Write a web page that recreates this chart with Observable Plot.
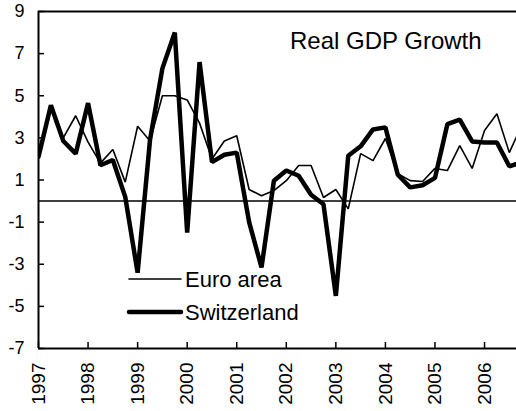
<!DOCTYPE html>
<html><head><meta charset="utf-8">
<script src="https://cdn.jsdelivr.net/npm/d3@7"></script>
<script src="https://cdn.jsdelivr.net/npm/@observablehq/plot@0.6"></script>
<style>
html,body{margin:0;padding:0;background:#fff;}
#chart{width:516px;height:411px;}
</style></head><body><div id="chart"></div>
<script>
const quarters = [
  "1997Q1","1997Q2","1997Q3","1997Q4","1998Q1","1998Q2","1998Q3","1998Q4",
  "1999Q1","1999Q2","1999Q3","1999Q4","2000Q1","2000Q2","2000Q3","2000Q4",
  "2001Q1","2001Q2","2001Q3","2001Q4","2002Q1","2002Q2","2002Q3","2002Q4",
  "2003Q1","2003Q2","2003Q3","2003Q4","2004Q1","2004Q2","2004Q3","2004Q4",
  "2005Q1","2005Q2","2005Q3","2005Q4","2006Q1","2006Q2","2006Q3","2006Q4"
];
const euroArea = [
  2.1, 4.5, 3.0, 4.05,   2.8, 1.8, 2.45, 0.9,
  3.55, 2.85, 5.0, 5.0,  4.8, 3.7, 2.0, 2.85,
  3.1, 0.55, 0.25, 0.5,  0.97, 1.69, 1.69, 0.17,
  0.55, -0.37, 2.25, 1.92, 2.97, 1.3, 0.97, 0.93,
  1.55, 1.45, 2.63, 1.55, 3.35, 4.15, 2.3, 3.6
];
const switzerland = [
  2.1, 4.55, 2.85, 2.25, 4.65, 1.7, 1.95, 0.2,
  -3.4, 2.9, 6.3, 8.0,   -1.5, 6.6, 1.85, 2.2,
  2.3, -1.0, -3.15, 0.97, 1.45, 1.2, 0.3, -0.15,
  -4.5, 2.15, 2.6, 3.4,  3.5, 1.25, 0.65, 0.75,
  1.1, 3.65, 3.87, 2.83, 2.78, 2.78, 1.65, 1.85
];
const seriesNames = ["Euro area", "Switzerland"];
const yTicks = [-7, -5, -3, -1, 1, 3, 5, 7, 9];
const xTicks = [1997, 1998, 1999, 2000, 2001, 2002, 2003, 2004, 2005, 2006];
const titleText = "Real GDP Growth";

const toT = q => +q.slice(0, 4) + (+q.slice(5) - 1) / 4;
const euroRows = quarters.map((q, i) => ({t: toT(q), v: euroArea[i]}));
const swissRows = quarters.map((q, i) => ({t: toT(q), v: switzerland[i]}));

const xMin = 1997, xMax = 2006.645;
const fmt = d => (d < 0 ? "-" + Math.abs(d) : String(d));
const font = "'Liberation Sans', Arial, Helvetica, sans-serif";

const plot = Plot.plot({
  width: 516, height: 411,
  marginLeft: 38, marginRight: 0, marginTop: 11, marginBottom: 63,
  x: {domain: [xMin, xMax], label: null},
  y: {domain: [-7, 9], label: null},
  marks: [
    Plot.ruleY([0], {stroke: "#000", strokeWidth: 1.5}),
    Plot.line(euroRows, {x: "t", y: "v", stroke: "#000", strokeWidth: 1.6, strokeLinejoin: "miter", clip: true}),
    Plot.line(swissRows, {x: "t", y: "v", stroke: "#000", strokeWidth: 4.5, strokeLinejoin: "miter", clip: true}),
    Plot.axisY({ticks: yTicks, tickSize: 6, dx: 6, tickFormat: () => "", strokeWidth: 1.5, stroke: "#000", label: null}),
    Plot.text(yTicks, {y: d => d, text: fmt, frameAnchor: "left", dx: -14, textAnchor: "end",
      fontSize: 18, fontFamily: font, fill: "#000"}),
    Plot.axisX({ticks: xTicks, tickSize: 6, dy: -6, tickFormat: () => "", strokeWidth: 1.5, stroke: "#000", label: null}),
    Plot.text(xTicks, {x: d => d, text: d => String(d), frameAnchor: "bottom", dy: 14, rotate: -90,
      textAnchor: "end", lineAnchor: "middle", fontSize: 19, fontFamily: font, fill: "#000"}),
    Plot.ruleX([xMin], {stroke: "#000", strokeWidth: 2}),
    Plot.ruleY([-7], {stroke: "#000", strokeWidth: 2}),
    Plot.ruleY([9], {stroke: "#000", strokeWidth: 2})
  ]
});

const svg = d3.select(plot).style("background", "#fff");
svg.append("text")
  .attr("x", 290).attr("y", 49).attr("text-anchor", "start")
  .attr("font-family", font).attr("font-size", 24).attr("fill", "#000")
  .text(titleText);

const legend = svg.append("g").attr("font-family", font).attr("font-size", 22)
  .attr("fill", "#000").attr("text-anchor", "start");
const legendItems = [
  {name: seriesNames[0], w: 1.6, y: 279},
  {name: seriesNames[1], w: 4.5, y: 312}
];
legendItems.forEach(it => {
  legend.append("line").attr("x1", 129).attr("x2", 181).attr("y1", it.y).attr("y2", it.y)
    .attr("stroke", "#000").attr("stroke-width", it.w).attr("stroke-linecap", "round");
  legend.append("text").attr("x", 185).attr("y", it.y + 8).attr("text-anchor", "start").text(it.name);
});

document.getElementById("chart").appendChild(plot);
</script>
</body></html>
